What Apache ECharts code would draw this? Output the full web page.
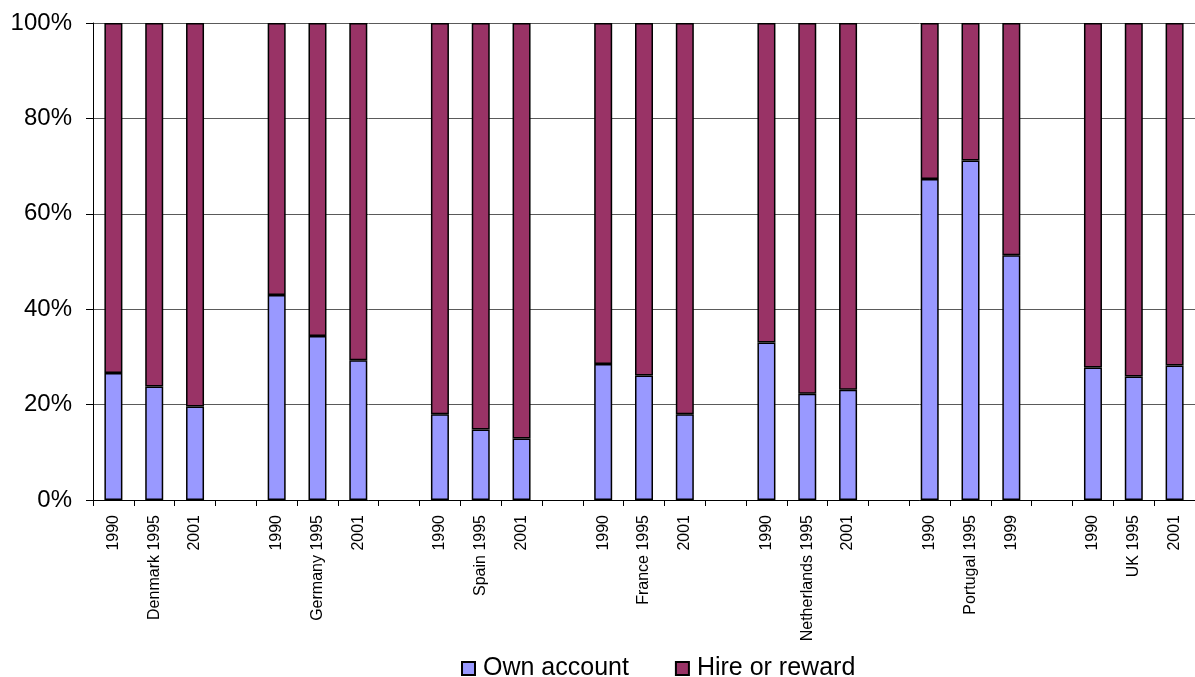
<!DOCTYPE html>
<html>
<head>
<meta charset="utf-8">
<script src="https://cdn.jsdelivr.net/npm/echarts@6/dist/echarts.min.js"></script>
<style>
html,body{margin:0;padding:0;background:#fff;}
#chart{width:1195px;height:677px;}
</style>
</head>
<body>
<div id="chart"></div>
<script>
// Data
var countries = ['Denmark', 'Germany', 'Spain', 'France', 'Netherlands', 'Portugal', 'UK'];
var years = [
  ['1990', '1995', '2001'],
  ['1990', '1995', '2001'],
  ['1990', '1995', '2001'],
  ['1990', '1995', '2001'],
  ['1990', '1995', '2001'],
  ['1990', '1995', '1999'],
  ['1990', '1995', '2001']
];
var ownAccount = [
  26.6, 23.8, 19.6,
  43.0, 34.4, 29.3,
  18.0, 14.8, 12.9,
  28.5, 26.1, 18.0,
  33.0, 22.3, 23.1,
  67.3, 71.2, 51.3,
  27.8, 25.9, 28.2
];
var hireOrReward = [
  73.4, 76.2, 80.4,
  57.0, 65.6, 70.7,
  82.0, 85.2, 87.1,
  71.5, 73.9, 82.0,
  67.0, 77.7, 76.9,
  32.7, 28.8, 48.7,
  72.2, 74.1, 71.8
];
var yTickLabels = ['0%', '20%', '40%', '60%', '80%', '100%'];

// Build category axis with a blank slot between country groups
var categories = [];
var ownData = [];
var hireData = [];
countries.forEach(function (c, gi) {
  if (gi > 0) { categories.push(''); ownData.push('-'); hireData.push('-'); }
  years[gi].forEach(function (y, yi) {
    categories.push(yi === 1 ? c + ' ' + y : y);
    ownData.push(ownAccount[gi * 3 + yi]);
    hireData.push(hireOrReward[gi * 3 + yi]);
  });
});

var chart = echarts.init(document.getElementById('chart'), null, {renderer: 'canvas'});
var font = 'Liberation Sans, Arial, sans-serif';
chart.setOption({
  animation: false,
  backgroundColor: '#ffffff',
  grid: {left: 93, right: 0, top: 23, bottom: 177, containLabel: false},
  legend: {
    left: 456, top: 651,
    itemWidth: 13, itemHeight: 13, itemGap: 46,
    icon: 'rect',
    textStyle: {fontFamily: font, fontSize: 25, color: '#000', padding: [0, 0, 0, 3]},
    data: ['Own account', 'Hire or reward']
  },
  xAxis: {
    type: 'category',
    data: categories,
    axisLine: {lineStyle: {color: '#000', width: 1}},
    axisTick: {show: true, length: 6, lineStyle: {color: '#000'}, interval: 0},
    axisLabel: {
      interval: 0, rotate: 90, margin: 15,
      fontFamily: font, fontSize: 16, color: '#000'
    }
  },
  yAxis: {
    type: 'value',
    min: 0, max: 100, interval: 20,
    axisLine: {show: true, lineStyle: {color: '#000', width: 1}},
    axisTick: {show: true, length: 7, lineStyle: {color: '#000'}},
    axisLabel: {
      margin: 21, fontFamily: font, fontSize: 24, color: '#000',
      formatter: function (v) { return yTickLabels[Math.round(v / 20)]; }
    },
    splitLine: {show: true, lineStyle: {color: '#5a5a5a', width: 1}}
  },
  series: [
    {
      name: 'Own account', type: 'bar', stack: 'total',
      data: ownData, barWidth: 18,
      itemStyle: {color: '#9999FF', borderColor: '#000', borderWidth: 1.5}
    },
    {
      name: 'Hire or reward', type: 'bar', stack: 'total',
      data: hireData, barWidth: 18,
      itemStyle: {color: '#993366', borderColor: '#000', borderWidth: 1.5}
    }
  ]
});
</script>
</body>
</html>
